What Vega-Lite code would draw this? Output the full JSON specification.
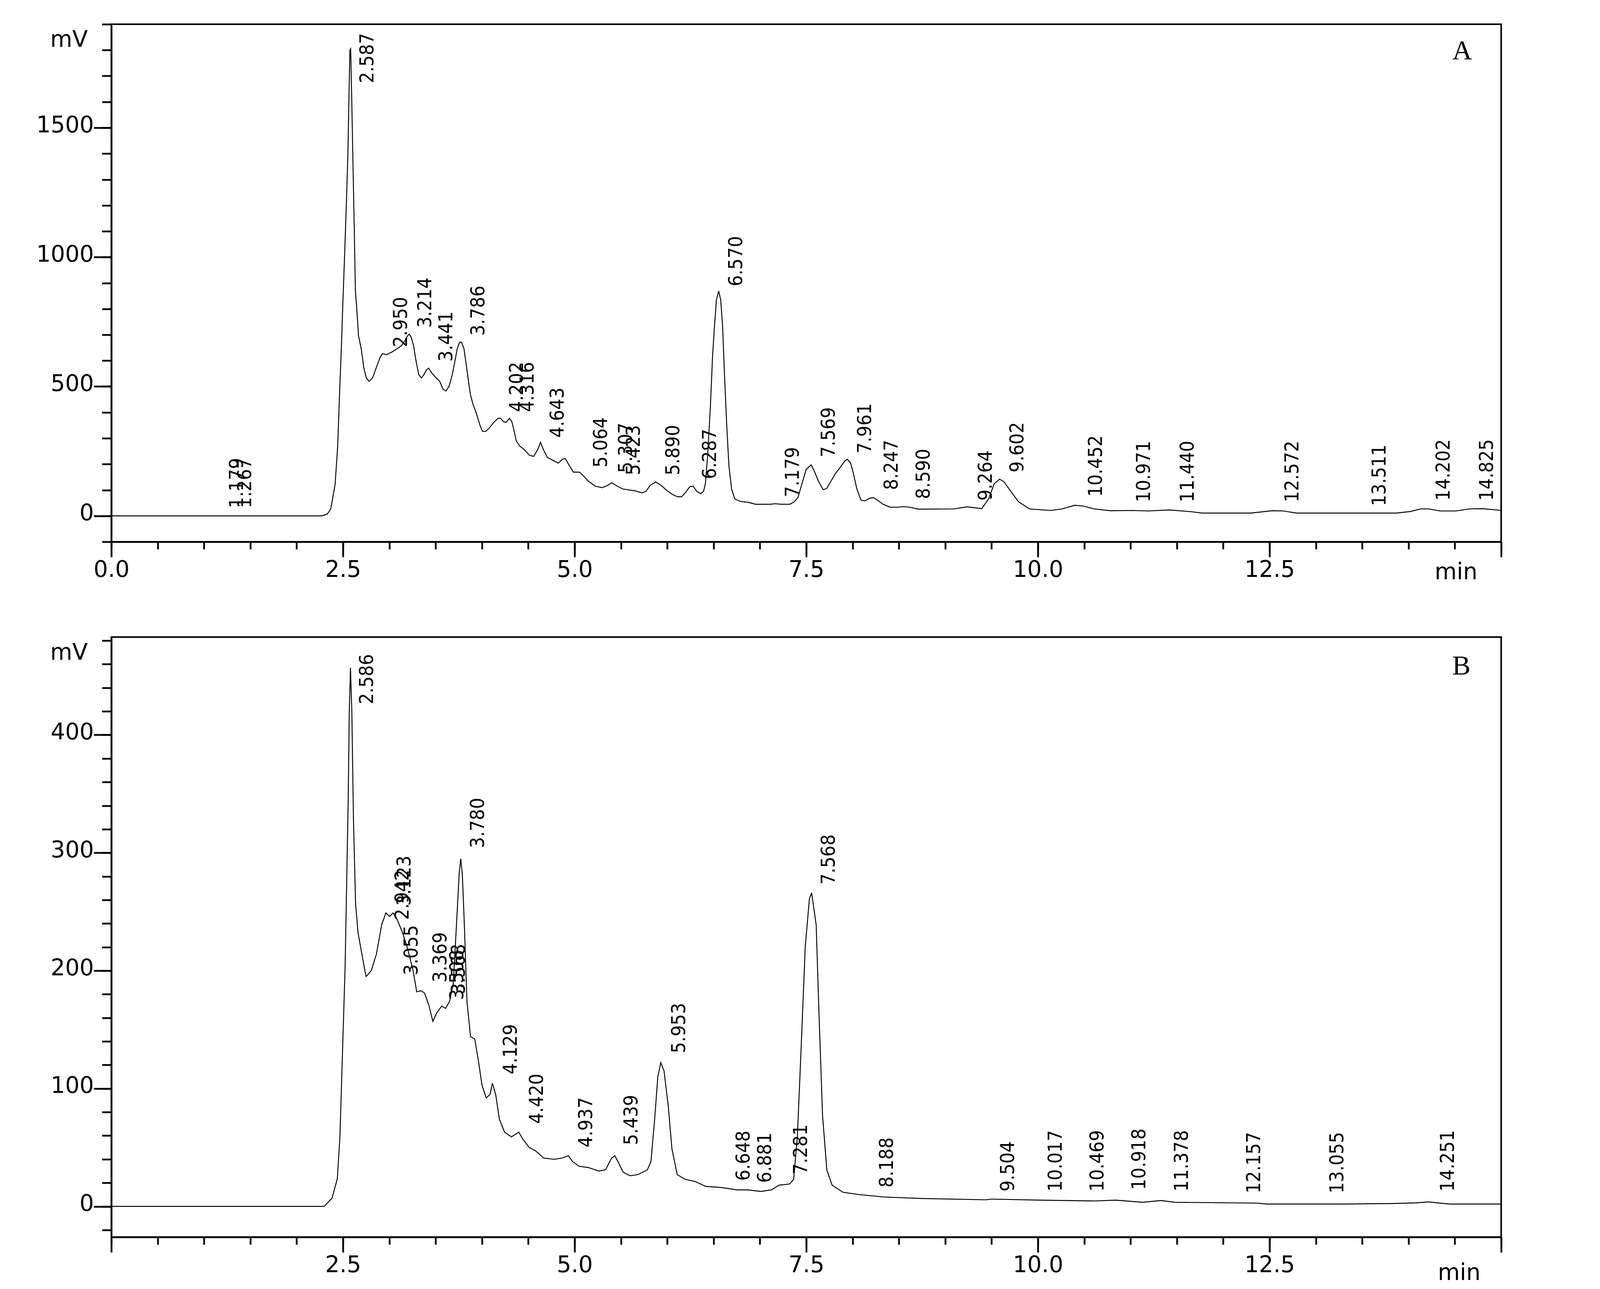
{
  "$schema": "https://vega.github.io/schema/vega-lite/v6.json",
  "background": "white",
  "padding": {"left": 90, "top": 57, "right": 20, "bottom": 20},
  "spacing": 133,
  "config": {
    "view": {"stroke": "black", "strokeWidth": 4},
    "axis": {
      "grid": false,
      "domainColor": "black",
      "domainWidth": 4.5,
      "tickColor": "black",
      "tickWidth": 4.5,
      "labelColor": "black",
      "titleColor": "black",
      "labelFont": "DejaVu Sans",
      "titleFont": "DejaVu Sans",
      "labelFontSize": 58,
      "titleFontSize": 58,
      "titleFontWeight": "normal",
      "labelOverlap": false,
      "labelFlush": false
    }
  },
  "datasets": {
    "trA": [
      {"t": 0, "mV": 0}, {"t": 2.27, "mV": 0}, {"t": 2.33, "mV": 7}, {"t": 2.368, "mV": 27}, {"t": 2.415, "mV": 121},
      {"t": 2.443, "mV": 270}, {"t": 2.462, "mV": 459}, {"t": 2.482, "mV": 646}, {"t": 2.5, "mV": 833},
      {"t": 2.519, "mV": 1021}, {"t": 2.537, "mV": 1209}, {"t": 2.553, "mV": 1396}, {"t": 2.566, "mV": 1646},
      {"t": 2.575, "mV": 1800}, {"t": 2.583, "mV": 1805}, {"t": 2.594, "mV": 1622}, {"t": 2.608, "mV": 1360},
      {"t": 2.622, "mV": 1109}, {"t": 2.634, "mV": 871}, {"t": 2.65, "mV": 795}, {"t": 2.668, "mV": 696},
      {"t": 2.697, "mV": 646}, {"t": 2.726, "mV": 570}, {"t": 2.753, "mV": 533}, {"t": 2.781, "mV": 520},
      {"t": 2.819, "mV": 533}, {"t": 2.857, "mV": 570}, {"t": 2.895, "mV": 608}, {"t": 2.924, "mV": 627},
      {"t": 2.97, "mV": 623}, {"t": 3.027, "mV": 633}, {"t": 3.085, "mV": 646}, {"t": 3.131, "mV": 658},
      {"t": 3.169, "mV": 677}, {"t": 3.197, "mV": 696}, {"t": 3.215, "mV": 702}, {"t": 3.237, "mV": 690},
      {"t": 3.262, "mV": 658}, {"t": 3.29, "mV": 596}, {"t": 3.318, "mV": 546}, {"t": 3.346, "mV": 533},
      {"t": 3.374, "mV": 546}, {"t": 3.402, "mV": 565}, {"t": 3.425, "mV": 571}, {"t": 3.459, "mV": 552},
      {"t": 3.506, "mV": 533}, {"t": 3.544, "mV": 520}, {"t": 3.581, "mV": 489}, {"t": 3.613, "mV": 483},
      {"t": 3.646, "mV": 502}, {"t": 3.68, "mV": 546}, {"t": 3.707, "mV": 596}, {"t": 3.733, "mV": 646},
      {"t": 3.759, "mV": 671}, {"t": 3.78, "mV": 671}, {"t": 3.806, "mV": 646}, {"t": 3.826, "mV": 596},
      {"t": 3.855, "mV": 520}, {"t": 3.874, "mV": 471}, {"t": 3.902, "mV": 433}, {"t": 3.94, "mV": 396},
      {"t": 3.977, "mV": 352}, {"t": 4.005, "mV": 327}, {"t": 4.042, "mV": 327}, {"t": 4.08, "mV": 340},
      {"t": 4.127, "mV": 361}, {"t": 4.174, "mV": 377}, {"t": 4.202, "mV": 377}, {"t": 4.23, "mV": 365},
      {"t": 4.26, "mV": 361}, {"t": 4.297, "mV": 377}, {"t": 4.322, "mV": 365}, {"t": 4.344, "mV": 333},
      {"t": 4.37, "mV": 290}, {"t": 4.408, "mV": 270}, {"t": 4.454, "mV": 257}, {"t": 4.514, "mV": 234},
      {"t": 4.558, "mV": 230}, {"t": 4.603, "mV": 257}, {"t": 4.632, "mV": 284}, {"t": 4.662, "mV": 257},
      {"t": 4.706, "mV": 226}, {"t": 4.766, "mV": 215}, {"t": 4.824, "mV": 204}, {"t": 4.869, "mV": 219},
      {"t": 4.899, "mV": 222}, {"t": 4.942, "mV": 195}, {"t": 4.987, "mV": 169}, {"t": 5.052, "mV": 169},
      {"t": 5.09, "mV": 157}, {"t": 5.149, "mV": 134}, {"t": 5.222, "mV": 115}, {"t": 5.297, "mV": 109},
      {"t": 5.357, "mV": 118}, {"t": 5.401, "mV": 128}, {"t": 5.46, "mV": 115}, {"t": 5.519, "mV": 104},
      {"t": 5.578, "mV": 101}, {"t": 5.652, "mV": 97}, {"t": 5.726, "mV": 89}, {"t": 5.771, "mV": 95},
      {"t": 5.815, "mV": 118}, {"t": 5.875, "mV": 131}, {"t": 5.934, "mV": 118}, {"t": 5.992, "mV": 99},
      {"t": 6.051, "mV": 84}, {"t": 6.11, "mV": 74}, {"t": 6.155, "mV": 74}, {"t": 6.2, "mV": 92},
      {"t": 6.244, "mV": 113}, {"t": 6.279, "mV": 115}, {"t": 6.318, "mV": 95}, {"t": 6.362, "mV": 86},
      {"t": 6.392, "mV": 95}, {"t": 6.412, "mV": 126}, {"t": 6.436, "mV": 234}, {"t": 6.466, "mV": 426},
      {"t": 6.489, "mV": 619}, {"t": 6.51, "mV": 734}, {"t": 6.53, "mV": 834}, {"t": 6.555, "mV": 869},
      {"t": 6.577, "mV": 834}, {"t": 6.597, "mV": 734}, {"t": 6.618, "mV": 542}, {"t": 6.642, "mV": 349},
      {"t": 6.665, "mV": 195}, {"t": 6.695, "mV": 103}, {"t": 6.73, "mV": 65}, {"t": 6.789, "mV": 56},
      {"t": 6.878, "mV": 52}, {"t": 6.953, "mV": 45}, {"t": 7.115, "mV": 45}, {"t": 7.159, "mV": 47},
      {"t": 7.234, "mV": 45}, {"t": 7.322, "mV": 45}, {"t": 7.367, "mV": 53}, {"t": 7.411, "mV": 72},
      {"t": 7.455, "mV": 126}, {"t": 7.5, "mV": 180}, {"t": 7.553, "mV": 197}, {"t": 7.588, "mV": 172},
      {"t": 7.632, "mV": 134}, {"t": 7.683, "mV": 101}, {"t": 7.721, "mV": 106}, {"t": 7.766, "mV": 134},
      {"t": 7.81, "mV": 161}, {"t": 7.869, "mV": 189}, {"t": 7.914, "mV": 211}, {"t": 7.943, "mV": 219},
      {"t": 7.979, "mV": 204}, {"t": 8.008, "mV": 165}, {"t": 8.047, "mV": 103}, {"t": 8.091, "mV": 61},
      {"t": 8.136, "mV": 58}, {"t": 8.18, "mV": 68}, {"t": 8.224, "mV": 71}, {"t": 8.268, "mV": 61},
      {"t": 8.328, "mV": 45}, {"t": 8.401, "mV": 34}, {"t": 8.476, "mV": 33}, {"t": 8.549, "mV": 36},
      {"t": 8.623, "mV": 33}, {"t": 8.711, "mV": 26}, {"t": 9.094, "mV": 27}, {"t": 9.237, "mV": 35},
      {"t": 9.325, "mV": 31}, {"t": 9.394, "mV": 28}, {"t": 9.469, "mV": 66}, {"t": 9.528, "mV": 124},
      {"t": 9.587, "mV": 142}, {"t": 9.634, "mV": 132}, {"t": 9.705, "mV": 96}, {"t": 9.79, "mV": 55},
      {"t": 9.908, "mV": 27}, {"t": 10.14, "mV": 21}, {"t": 10.26, "mV": 27}, {"t": 10.4, "mV": 41},
      {"t": 10.49, "mV": 38}, {"t": 10.61, "mV": 27}, {"t": 10.78, "mV": 20}, {"t": 11.02, "mV": 21},
      {"t": 11.19, "mV": 19}, {"t": 11.42, "mV": 23}, {"t": 11.66, "mV": 16}, {"t": 11.77, "mV": 11},
      {"t": 12.3, "mV": 11}, {"t": 12.53, "mV": 20}, {"t": 12.65, "mV": 19}, {"t": 12.79, "mV": 11},
      {"t": 13.87, "mV": 11}, {"t": 14.02, "mV": 17}, {"t": 14.13, "mV": 27}, {"t": 14.22, "mV": 27},
      {"t": 14.34, "mV": 19}, {"t": 14.51, "mV": 19}, {"t": 14.66, "mV": 27}, {"t": 14.8, "mV": 28},
      {"t": 14.92, "mV": 24}, {"t": 15.0, "mV": 21}
    ],
    "trB": [
      {"t": 0, "mV": 0}, {"t": 2.297, "mV": 0}, {"t": 2.382, "mV": 7}, {"t": 2.439, "mV": 23.5}, {"t": 2.467, "mV": 59},
      {"t": 2.495, "mV": 131}, {"t": 2.523, "mV": 203}, {"t": 2.54, "mV": 275}, {"t": 2.557, "mV": 347},
      {"t": 2.568, "mV": 419}, {"t": 2.581, "mV": 457}, {"t": 2.596, "mV": 419}, {"t": 2.613, "mV": 329},
      {"t": 2.636, "mV": 257}, {"t": 2.663, "mV": 232}, {"t": 2.704, "mV": 214}, {"t": 2.749, "mV": 195},
      {"t": 2.805, "mV": 200}, {"t": 2.861, "mV": 214}, {"t": 2.918, "mV": 239}, {"t": 2.963, "mV": 249},
      {"t": 3.002, "mV": 246}, {"t": 3.042, "mV": 249}, {"t": 3.087, "mV": 243}, {"t": 3.144, "mV": 232},
      {"t": 3.2, "mV": 218}, {"t": 3.257, "mV": 200}, {"t": 3.296, "mV": 182}, {"t": 3.341, "mV": 183},
      {"t": 3.38, "mV": 181}, {"t": 3.426, "mV": 171}, {"t": 3.47, "mV": 157}, {"t": 3.51, "mV": 164},
      {"t": 3.566, "mV": 170}, {"t": 3.606, "mV": 168}, {"t": 3.651, "mV": 174}, {"t": 3.69, "mV": 189},
      {"t": 3.725, "mV": 239}, {"t": 3.754, "mV": 282}, {"t": 3.771, "mV": 295}, {"t": 3.788, "mV": 282},
      {"t": 3.81, "mV": 239}, {"t": 3.838, "mV": 174}, {"t": 3.877, "mV": 144}, {"t": 3.922, "mV": 142},
      {"t": 3.961, "mV": 124}, {"t": 4.0, "mV": 103}, {"t": 4.046, "mV": 92}, {"t": 4.087, "mV": 95},
      {"t": 4.113, "mV": 104.5}, {"t": 4.148, "mV": 95}, {"t": 4.188, "mV": 74}, {"t": 4.244, "mV": 63},
      {"t": 4.319, "mV": 59}, {"t": 4.397, "mV": 63}, {"t": 4.442, "mV": 57}, {"t": 4.51, "mV": 50},
      {"t": 4.581, "mV": 47}, {"t": 4.666, "mV": 41}, {"t": 4.78, "mV": 40}, {"t": 4.864, "mV": 41},
      {"t": 4.933, "mV": 43}, {"t": 4.978, "mV": 38}, {"t": 5.051, "mV": 34}, {"t": 5.147, "mV": 33},
      {"t": 5.26, "mV": 30}, {"t": 5.333, "mV": 31}, {"t": 5.4, "mV": 41}, {"t": 5.434, "mV": 43},
      {"t": 5.468, "mV": 38}, {"t": 5.525, "mV": 29}, {"t": 5.598, "mV": 26}, {"t": 5.683, "mV": 27},
      {"t": 5.785, "mV": 31}, {"t": 5.824, "mV": 38}, {"t": 5.864, "mV": 74}, {"t": 5.898, "mV": 110},
      {"t": 5.93, "mV": 122}, {"t": 5.965, "mV": 115}, {"t": 6.011, "mV": 85}, {"t": 6.05, "mV": 49},
      {"t": 6.107, "mV": 27}, {"t": 6.191, "mV": 23}, {"t": 6.304, "mV": 21}, {"t": 6.416, "mV": 17},
      {"t": 6.587, "mV": 16}, {"t": 6.755, "mV": 14}, {"t": 6.868, "mV": 14}, {"t": 7.009, "mV": 12.7},
      {"t": 7.123, "mV": 14}, {"t": 7.206, "mV": 18}, {"t": 7.319, "mV": 19}, {"t": 7.364, "mV": 23},
      {"t": 7.404, "mV": 59}, {"t": 7.443, "mV": 131}, {"t": 7.489, "mV": 220}, {"t": 7.534, "mV": 261},
      {"t": 7.558, "mV": 266}, {"t": 7.607, "mV": 239}, {"t": 7.636, "mV": 167}, {"t": 7.676, "mV": 77},
      {"t": 7.722, "mV": 31}, {"t": 7.779, "mV": 18}, {"t": 7.897, "mV": 12}, {"t": 8.072, "mV": 10},
      {"t": 8.335, "mV": 8}, {"t": 8.74, "mV": 6.7}, {"t": 9.44, "mV": 5.6}, {"t": 9.5, "mV": 6.2},
      {"t": 10.02, "mV": 5.3}, {"t": 10.61, "mV": 4.6}, {"t": 10.84, "mV": 5.3}, {"t": 11.13, "mV": 3.5},
      {"t": 11.33, "mV": 5}, {"t": 11.48, "mV": 3.5}, {"t": 12.36, "mV": 2.8}, {"t": 12.47, "mV": 2},
      {"t": 13.29, "mV": 2}, {"t": 13.81, "mV": 2.4}, {"t": 14.08, "mV": 3}, {"t": 14.22, "mV": 3.8},
      {"t": 14.31, "mV": 3}, {"t": 14.45, "mV": 2}, {"t": 15.0, "mV": 2}
    ],
    "pkA": [
      {"label": "1.179", "x": 1.179, "at": 30}, {"label": "1.267", "x": 1.267, "at": 30},
      {"label": "2.587", "x": 2.587, "at": 1672}, {"label": "2.950", "x": 2.95, "at": 652},
      {"label": "3.214", "x": 3.214, "at": 727}, {"label": "3.441", "x": 3.441, "at": 596},
      {"label": "3.786", "x": 3.786, "at": 696}, {"label": "4.202", "x": 4.202, "at": 401},
      {"label": "4.316", "x": 4.316, "at": 401}, {"label": "4.643", "x": 4.643, "at": 302},
      {"label": "5.064", "x": 5.11, "at": 187}, {"label": "5.307", "x": 5.38, "at": 166},
      {"label": "5.423", "x": 5.465, "at": 157}, {"label": "5.890", "x": 5.89, "at": 157},
      {"label": "6.287", "x": 6.287, "at": 142}, {"label": "6.570", "x": 6.57, "at": 887},
      {"label": "7.179", "x": 7.179, "at": 72}, {"label": "7.569", "x": 7.569, "at": 226},
      {"label": "7.961", "x": 7.961, "at": 241}, {"label": "8.247", "x": 8.247, "at": 100},
      {"label": "8.590", "x": 8.59, "at": 65}, {"label": "9.264", "x": 9.264, "at": 59},
      {"label": "9.602", "x": 9.602, "at": 168}, {"label": "10.452", "x": 10.452, "at": 74},
      {"label": "10.971", "x": 10.971, "at": 53}, {"label": "11.440", "x": 11.44, "at": 53},
      {"label": "12.572", "x": 12.572, "at": 53}, {"label": "13.511", "x": 13.511, "at": 38},
      {"label": "14.202", "x": 14.202, "at": 59}, {"label": "14.825", "x": 14.67, "at": 59}
    ],
    "pkB": [
      {"label": "2.586", "x": 2.586, "at": 426}, {"label": "2.942", "x": 2.967, "at": 243},
      {"label": "3.123", "x": 2.99, "at": 255}, {"label": "3.055", "x": 3.064, "at": 196},
      {"label": "3.369", "x": 3.379, "at": 190}, {"label": "3.508", "x": 3.56, "at": 175},
      {"label": "3.568", "x": 3.575, "at": 180}, {"label": "3.780", "x": 3.78, "at": 304},
      {"label": "4.129", "x": 4.137, "at": 112}, {"label": "4.420", "x": 4.42, "at": 70},
      {"label": "4.937", "x": 4.95, "at": 50}, {"label": "5.439", "x": 5.439, "at": 52},
      {"label": "5.953", "x": 5.953, "at": 130}, {"label": "6.648", "x": 6.648, "at": 21.7},
      {"label": "6.881", "x": 6.881, "at": 20}, {"label": "7.281", "x": 7.27, "at": 27},
      {"label": "7.568", "x": 7.568, "at": 273}, {"label": "8.188", "x": 8.195, "at": 16},
      {"label": "9.504", "x": 9.504, "at": 12.6}, {"label": "10.017", "x": 10.017, "at": 12.6},
      {"label": "10.469", "x": 10.469, "at": 12.6}, {"label": "10.918", "x": 10.918, "at": 14},
      {"label": "11.378", "x": 11.378, "at": 12.6}, {"label": "12.157", "x": 12.157, "at": 11},
      {"label": "13.055", "x": 13.055, "at": 11}, {"label": "14.251", "x": 14.251, "at": 12.6}
    ]
  },
  "vconcat": [
    {
      "width": 3558,
      "height": 1325,
      "resolve": {"axis": {"x": "independent", "y": "independent"}},
      "layer": [
        {
          "data": {"name": "trA"},
          "mark": {"type": "line", "color": "black", "strokeWidth": 2.4},
          "encoding": {
            "x": {
              "field": "t", "type": "quantitative",
              "scale": {"domain": [0, 15], "nice": false, "zero": false},
              "axis": {
                "orient": "bottom", "values": [0, 2.5, 5, 7.5, 10, 12.5, 15],
                "labelExpr": "datum.value == 15 ? '' : format(datum.value, '.1f')",
                "tickSize": 39, "labelPadding": 4,
                "title": "min", "titleX": 3442, "titleY": 78,
                "titleAlign": "center", "titleBaseline": "middle"
              }
            },
            "y": {
              "field": "mV", "type": "quantitative",
              "scale": {"domain": [-100, 1900], "nice": false, "zero": false},
              "axis": {
                "orient": "left", "values": [0, 500, 1000, 1500], "format": "d",
                "tickSize": 45, "labelPadding": 0, "labelBaseline": "middle", "labelOffset": -6,
                "title": "mV", "titleAngle": 0, "titleX": -109, "titleY": 40,
                "titleAlign": "center", "titleBaseline": "middle"
              }
            }
          }
        },
        {
          "data": {"name": "pkA"},
          "mark": {
            "type": "text", "angle": 270, "align": "left", "baseline": "top", "dy": 17,
            "font": "Liberation Sans Narrow, Arial Narrow, DejaVu Sans Condensed, sans-serif",
            "fontSize": 50, "color": "black"
          },
          "encoding": {
            "x": {
              "field": "x", "type": "quantitative",
              "scale": {"domain": [0, 15], "nice": false, "zero": false},
              "axis": {
                "orient": "bottom", "domain": false, "labels": false, "title": null, "tickSize": 19,
                "values": [0, 0.5, 1, 1.5, 2, 2.5, 3, 3.5, 4, 4.5, 5, 5.5, 6, 6.5, 7, 7.5, 8, 8.5, 9, 9.5, 10, 10.5, 11, 11.5, 12, 12.5, 13, 13.5, 14, 14.5, 15]
              }
            },
            "y": {
              "field": "at", "type": "quantitative",
              "scale": {"domain": [-100, 1900], "nice": false, "zero": false},
              "axis": {
                "orient": "left", "domain": false, "labels": false, "title": null, "tickSize": 24,
                "values": [-100, 0, 100, 200, 300, 400, 500, 600, 700, 800, 900, 1000, 1100, 1200, 1300, 1400, 1500, 1600, 1700, 1800, 1900]
              }
            },
            "text": {"field": "label", "type": "nominal"}
          }
        },
        {
          "data": {"values": [{"panel": "A"}]},
          "mark": {"type": "text", "font": "Liberation Serif", "fontSize": 70, "color": "black", "align": "center", "baseline": "middle"},
          "encoding": {
            "x": {"datum": 14.58, "type": "quantitative", "scale": {"domain": [0, 15], "nice": false, "zero": false}, "axis": null},
            "y": {"datum": 1796, "type": "quantitative", "scale": {"domain": [-100, 1900], "nice": false, "zero": false}, "axis": null},
            "text": {"field": "panel", "type": "nominal"}
          }
        }
      ]
    },
    {
      "width": 3558,
      "height": 1536,
      "resolve": {"axis": {"x": "independent", "y": "independent"}},
      "layer": [
        {
          "data": {"name": "trB"},
          "mark": {"type": "line", "color": "black", "strokeWidth": 2.4},
          "encoding": {
            "x": {
              "field": "t", "type": "quantitative",
              "scale": {"domain": [0, 15], "nice": false, "zero": false},
              "axis": {
                "orient": "bottom", "values": [0, 2.5, 5, 7.5, 10, 12.5, 15],
                "labelExpr": "datum.value == 15 || datum.value == 0 ? '' : format(datum.value, '.1f')",
                "tickSize": 39, "labelPadding": 4,
                "title": "min", "titleX": 3450, "titleY": 92,
                "titleAlign": "center", "titleBaseline": "middle"
              }
            },
            "y": {
              "field": "mV", "type": "quantitative",
              "scale": {"domain": [-26, 483], "nice": false, "zero": false},
              "axis": {
                "orient": "left", "values": [0, 100, 200, 300, 400], "format": "d",
                "tickSize": 45, "labelPadding": 0, "labelBaseline": "middle", "labelOffset": -6,
                "title": "mV", "titleAngle": 0, "titleX": -109, "titleY": 40,
                "titleAlign": "center", "titleBaseline": "middle"
              }
            }
          }
        },
        {
          "data": {"name": "pkB"},
          "mark": {
            "type": "text", "angle": 270, "align": "left", "baseline": "top", "dy": 17,
            "font": "Liberation Sans Narrow, Arial Narrow, DejaVu Sans Condensed, sans-serif",
            "fontSize": 50, "color": "black"
          },
          "encoding": {
            "x": {
              "field": "x", "type": "quantitative",
              "scale": {"domain": [0, 15], "nice": false, "zero": false},
              "axis": {
                "orient": "bottom", "domain": false, "labels": false, "title": null, "tickSize": 19,
                "values": [0, 0.5, 1, 1.5, 2, 2.5, 3, 3.5, 4, 4.5, 5, 5.5, 6, 6.5, 7, 7.5, 8, 8.5, 9, 9.5, 10, 10.5, 11, 11.5, 12, 12.5, 13, 13.5, 14, 14.5, 15]
              }
            },
            "y": {
              "field": "at", "type": "quantitative",
              "scale": {"domain": [-26, 483], "nice": false, "zero": false},
              "axis": {
                "orient": "left", "domain": false, "labels": false, "title": null, "tickSize": 24,
                "values": [-20, 0, 20, 40, 60, 80, 100, 120, 140, 160, 180, 200, 220, 240, 260, 280, 300, 320, 340, 360, 380, 400, 420, 440, 460, 480]
              }
            },
            "text": {"field": "label", "type": "nominal"}
          }
        },
        {
          "data": {"values": [{"panel": "B"}]},
          "mark": {"type": "text", "font": "Liberation Serif", "fontSize": 70, "color": "black", "align": "center", "baseline": "middle"},
          "encoding": {
            "x": {"datum": 14.57, "type": "quantitative", "scale": {"domain": [0, 15], "nice": false, "zero": false}, "axis": null},
            "y": {"datum": 458, "type": "quantitative", "scale": {"domain": [-26, 483], "nice": false, "zero": false}, "axis": null},
            "text": {"field": "panel", "type": "nominal"}
          }
        }
      ]
    }
  ]
}
